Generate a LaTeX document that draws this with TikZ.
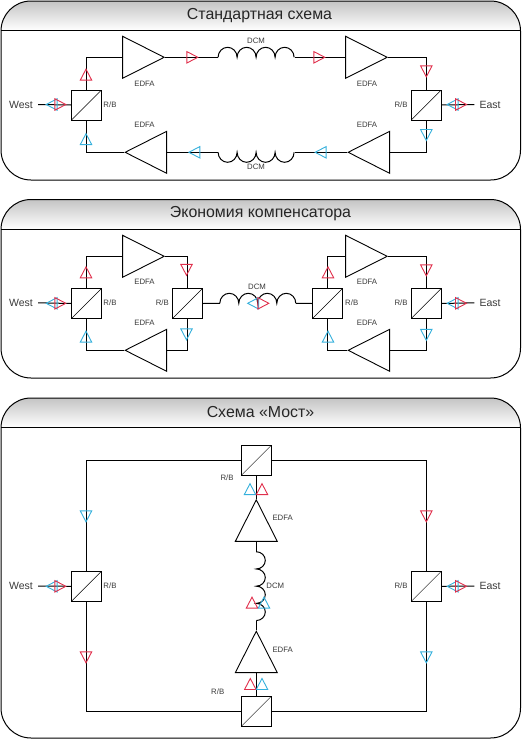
\documentclass[tikz,border=0pt]{standalone}
\usepackage{fontspec}
\setmainfont{Liberation Sans}
\usetikzlibrary{shapes.geometric}
\definecolor{mgred}{HTML}{E0304C}
\definecolor{mgblue}{HTML}{35B0DC}
\definecolor{mghead}{HTML}{C4C4C4}
\definecolor{mgtext}{HTML}{3A3A3A}
\tikzset{
  panel/.style={
    draw=black,
    line width=1pt,
    rounded corners=30pt
  },
  title/.style={
    font=\fontsize{15.9}{18}\selectfont,
    text=black!85,
    inner sep=0pt
  },
  link/.style={
    draw=black,
    line width=1pt
  },
  rbbox/.style={
    draw=black,
    line width=1pt,
    minimum size=30pt,
    inner sep=0pt,
    path picture={\draw[line width=0.5pt] (path picture bounding box.south west) -- (path picture bounding box.north east);}
  },
  edfa/.style={
    draw=black,
    line width=0.9pt,
    fill=white,
    isosceles triangle,
    isosceles triangle stretches,
    inner sep=0pt,
    minimum height=41.5pt,
    minimum width=42pt
  },
  markbase/.style={
    draw=#1,
    line width=0.9pt,
    isosceles triangle,
    isosceles triangle stretches,
    inner sep=0pt,
    minimum height=11pt,
    minimum width=11.5pt
  },
  coilbox/.style={
    inner sep=0pt,
    minimum width=#1,
    minimum height=0pt
  },
  coilboxv/.style={
    inner sep=0pt,
    minimum height=#1,
    minimum width=0pt
  },
  small/.style={
    font=\fontsize{7.8}{9}\selectfont,
    text=mgtext,
    inner sep=0pt
  },
  side/.style={
    font=\fontsize{10.5}{12}\selectfont,
    text=mgtext,
    inner ysep=0pt,
    inner xsep=5pt
  }
}
\newcommand{\mkup}[3]{\node[markbase=#1, shape border rotate=90, anchor=apex] (#2) at #3 {};}
\newcommand{\mkdown}[3]{\node[markbase=#1, shape border rotate=270, anchor=apex] (#2) at #3 {};}
\newcommand{\mkleft}[3]{\node[markbase=#1, shape border rotate=180, anchor=apex] (#2) at #3 {};}
\newcommand{\mkright}[3]{\node[markbase=#1, shape border rotate=0, anchor=apex] (#2) at #3 {};}

\begin{document}
\begin{tikzpicture}[x=1pt,y=-1pt]
\useasboundingbox (0,0) rectangle (522,739);

% panels
\foreach \top/\head/\bot in {1/30.5/180, 199.5/229/378, 398/427.5/738}{
  \begin{scope}
    \clip[rounded corners=30pt] (1,\top) rectangle (520.5,\bot);
    \shade[top color=mghead, bottom color=white] (1,\top) rectangle (520.5,\head);
  \end{scope}
  \draw[panel] (1,\top) rectangle (520.5,\bot);
  \draw[link] (1,\head) -- (520.5,\head);
}
\node[title] (titlea) at (259.5,15.5) {Стандартная схема};
\node[title] (titleb) at (260.5,214) {Экономия компенсатора};
\node[title] (titlec) at (260.5,412.5) {Схема «Мост»};

% first scheme
\node[rbbox] (rba) at (86.5,105) {};
\node[rbbox] (rbb) at (426.3,105) {};
\node[edfa, anchor=apex] (ampa) at (165.3,57.3) {};
\node[edfa, anchor=apex] (ampb) at (388.3,57.3) {};
\node[edfa, shape border rotate=180, anchor=apex] (ampc) at (347,152.3) {};
\node[edfa, shape border rotate=180, anchor=apex] (ampd) at (124,152.3) {};
\node[coilbox=76pt] (dcma) at (256.3,57.3) {};
\node[coilbox=76pt] (dcmb) at (256.3,152.3) {};
\node[side] (westa) at (21,104.5) {West};
\node[side] (easta) at (490,104.5) {East};

\draw[link] (rba.north) |- (ampa.lower side);
\draw[link] (ampa.apex) -- (dcma.west);
\draw[link] (dcma.east) -- (ampb.lower side);
\draw[link] (ampb.apex) -| (rbb.north);
\draw[link] (rbb.south) |- (ampc.lower side);
\draw[link] (ampc.apex) -- (dcmb.east);
\draw[link] (dcmb.west) -- (ampd.lower side);
\draw[link] (ampd.apex) -| (rba.south);
\draw[link] (westa.east) -- (rba.west);
\draw[link] (easta.west) -- (rbb.east);
\draw[link] (dcma.west) foreach \i in {1,...,4} {arc[start angle=180,end angle=360,x radius=9.5,y radius=10]};
\draw[link] (dcmb.west) foreach \i in {1,...,4} {arc[start angle=180,end angle=0,x radius=9.5,y radius=10]};

\node[small] (laba) at (110,104.5) {R/B};
\node[small] (labb) at (401,104.5) {R/B};
\node[small] (labc) at (144.5,84) {EDFA};
\node[small] (labd) at (367,84) {EDFA};
\node[small] (labe) at (144.5,124.5) {EDFA};
\node[small] (labf) at (367,124.5) {EDFA};
\node[small] (labg) at (256,41) {DCM};
\node[small] (labh) at (256,167) {DCM};

\mkup{mgred}{mka}{(86,68)}
\mkdown{mgred}{mkb}{(426.3,78)}
\mkup{mgblue}{mkc}{(86,132.5)}
\mkdown{mgblue}{mkd}{(426.3,141.7)}
\mkright{mgred}{mke}{(199,57.3)}
\mkright{mgred}{mkf}{(326,57.3)}
\mkleft{mgblue}{mkg}{(187.7,152.3)}
\mkleft{mgblue}{mkh}{(314,152.3)}
\mkleft{mgblue}{mki}{(45,104.5)}
\mkright{mgred}{mkj}{(67,104.5)}
\mkleft{mgblue}{mkk}{(446,104.5)}
\mkright{mgred}{mkl}{(467.7,104.5)}

% second scheme
\node[rbbox] (rbc) at (86.5,303.5) {};
\node[rbbox] (rbd) at (187.5,303.5) {};
\node[rbbox] (rbe) at (327.5,303.5) {};
\node[rbbox] (rbf) at (426.3,303.5) {};
\node[edfa, anchor=apex] (ampe) at (165.3,256.3) {};
\node[edfa, anchor=apex] (ampf) at (388.3,256.3) {};
\node[edfa, shape border rotate=180, anchor=apex] (ampg) at (124,350.3) {};
\node[edfa, shape border rotate=180, anchor=apex] (amph) at (347,350.3) {};
\node[coilbox=76pt] (dcmc) at (258,303.3) {};
\node[side] (westb) at (21,302.8) {West};
\node[side] (eastb) at (490,302.8) {East};

\draw[link] (rbc.north) |- (ampe.lower side);
\draw[link] (ampe.apex) -| (rbd.north);
\draw[link] (rbd.south) |- (ampg.lower side);
\draw[link] (ampg.apex) -| (rbc.south);
\draw[link] (rbd.east) -- (dcmc.west);
\draw[link] (dcmc.east) -- (rbe.west);
\draw[link] (rbe.north) |- (ampf.lower side);
\draw[link] (ampf.apex) -| (rbf.north);
\draw[link] (rbf.south) |- (amph.lower side);
\draw[link] (amph.apex) -| (rbe.south);
\draw[link] (westb.east) -- (rbc.west);
\draw[link] (eastb.west) -- (rbf.east);
\draw[link] (dcmc.west) foreach \i in {1,...,4} {arc[start angle=180,end angle=360,x radius=9.5,y radius=10]};

\node[small] (labi) at (110,303) {R/B};
\node[small] (labj) at (162.3,303) {R/B};
\node[small] (labk) at (351.7,303) {R/B};
\node[small] (labl) at (401,303) {R/B};
\node[small] (labm) at (144.5,282) {EDFA};
\node[small] (labn) at (367,282) {EDFA};
\node[small] (labo) at (144.5,323) {EDFA};
\node[small] (labp) at (367,323) {EDFA};
\node[small] (labq) at (257,287) {DCM};

\mkup{mgred}{mkm}{(86,265.7)}
\mkdown{mgred}{mkn}{(186.5,276.5)}
\mkup{mgblue}{mko}{(86,330)}
\mkdown{mgblue}{mkp}{(186.5,341)}
\mkup{mgred}{mkq}{(328,265.7)}
\mkdown{mgred}{mkr}{(426.3,277)}
\mkup{mgblue}{mks}{(328,330)}
\mkdown{mgblue}{mkt}{(426.3,341.5)}
\mkleft{mgblue}{mku}{(246.5,303.3)}
\mkright{mgred}{mkv}{(270,303.3)}
\mkleft{mgblue}{mkw}{(45,303.3)}
\mkright{mgred}{mkx}{(67,303.3)}
\mkleft{mgblue}{mky}{(446,303.3)}
\mkright{mgred}{mkz}{(467.7,303.3)}

% bridge scheme
\node[rbbox] (rbg) at (86.5,586.3) {};
\node[rbbox] (rbh) at (426.3,586.3) {};
\node[rbbox] (rbi) at (256.3,460.3) {};
\node[rbbox] (rbj) at (256.3,711.3) {};
\node[edfa, shape border rotate=90, anchor=apex] (ampi) at (256.3,498.7) {};
\node[edfa, shape border rotate=90, anchor=apex] (ampj) at (256.3,630) {};
\node[coilboxv=68.7pt] (dcmd) at (256.3,586.3) {};
\node[side] (westc) at (21,586) {West};
\node[side] (eastc) at (490,586) {East};

\draw[link] (rbi.west) -| (rbg.north);
\draw[link] (rbg.south) |- (rbj.west);
\draw[link] (rbi.east) -| (rbh.north);
\draw[link] (rbh.south) |- (rbj.east);
\draw[link] (rbi.south) -- (ampi.apex);
\draw[link] (ampi.lower side) -- (dcmd.north);
\draw[link] (dcmd.south) -- (ampj.apex);
\draw[link] (ampj.lower side) -- (rbj.north);
\draw[link] (westc.east) -- (rbg.west);
\draw[link] (eastc.west) -- (rbh.east);
\draw[link] (dcmd.north) foreach \i in {1,...,4} {arc[start angle=-90,end angle=90,x radius=9,y radius=8.6]};

\node[small] (labr) at (110,586) {R/B};
\node[small] (labs) at (401,586) {R/B};
\node[small] (labt) at (227,478) {R/B};
\node[small] (labu) at (217.7,692) {R/B};
\node[small] (labv) at (282.7,518) {EDFA};
\node[small] (labw) at (282.7,650) {EDFA};
\node[small] (labx) at (275.3,586.3) {DCM};

\mkdown{mgblue}{mlc}{(86,523)}
\mkdown{mgred}{mld}{(86,664)}
\mkdown{mgred}{mle}{(426.3,523)}
\mkdown{mgblue}{mlf}{(426.3,664)}
\mkup{mgblue}{mlg}{(250,482.5)}
\mkup{mgred}{mlh}{(262,482.5)}
\mkup{mgred}{mli}{(252,596)}
\mkup{mgblue}{mlj}{(264,596)}
\mkup{mgred}{mlk}{(250.3,677.3)}
\mkup{mgblue}{mll}{(262,677.3)}
\mkleft{mgblue}{mlm}{(45,586.3)}
\mkright{mgred}{mln}{(67,586.3)}
\mkleft{mgblue}{mlo}{(446,586.3)}
\mkright{mgred}{mlp}{(467.7,586.3)}

\end{tikzpicture}
\end{document}
